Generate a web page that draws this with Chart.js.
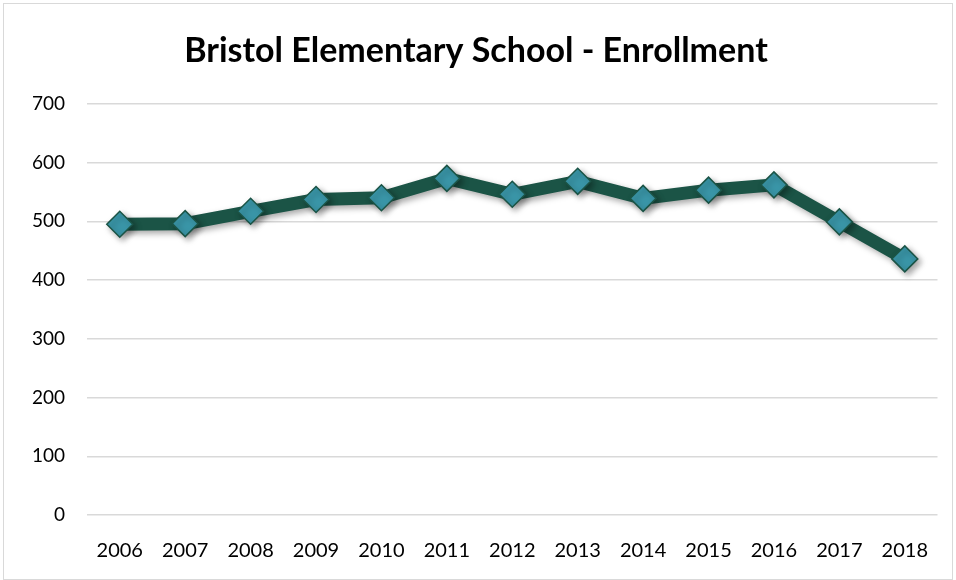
<!DOCTYPE html>
<html>
<head>
<meta charset="utf-8">
<script src="https://cdn.jsdelivr.net/npm/chart.js@4"></script>
<style>
  html, body { margin: 0; padding: 0; background: #fff; overflow: hidden; }
  #wrap { position: absolute; left: 3px; top: 3px; width: 950px; height: 577px; border: 1px solid #d9d9d9; box-sizing: border-box; }
  canvas { display: block; }
</style>
</head>
<body>
<div id="wrap"><canvas id="chart"></canvas></div>
<script>
// Enrollment by year
const years = ['2006', '2007', '2008', '2009', '2010', '2011', '2012', '2013', '2014', '2015', '2016', '2017', '2018'];
const enrollment = [495, 496, 517, 537, 540, 573, 546, 568, 539, 553, 562, 499, 436];
const yTicks = [0, 100, 200, 300, 400, 500, 600, 700];

const fontFamily = "Lato, 'Open Sans', sans-serif";

// soft drop shadow under line and markers
const shadowPlugin = {
    id: 'shadow',
    beforeDatasetsDraw(chart) {
        const ctx = chart.ctx;
        ctx.save();
        ctx.shadowColor = 'rgba(0,0,0,0.35)';
        ctx.shadowBlur = 6;
        ctx.shadowOffsetX = 3;
        ctx.shadowOffsetY = 3;
    },
    afterDatasetsDraw(chart) {
        chart.ctx.restore();
    }
};

new Chart(document.getElementById('chart'), {
    type: 'line',
    data: {
        labels: years,
        datasets: [{
            label: 'Enrollment',
            data: enrollment,
            borderColor: '#1b5446',
            borderWidth: 13,
            pointStyle: 'rectRot',
            pointRadius: 13,
            pointBackgroundColor: '#3a96a8',
            pointBorderColor: '#1b5446',
            pointBorderWidth: 1.5,
            tension: 0
        }]
    },
    options: {
        responsive: true,
        maintainAspectRatio: false,
        animation: false,
        layout: { padding: { left: 6, right: 10, top: 0, bottom: 0 } },
        plugins: {
            legend: { display: false },
            tooltip: { enabled: false },
            title: {
                display: true,
                text: 'Bristol Elementary School - Enrollment',
                color: '#000',
                font: { family: fontFamily, size: 34, weight: 'bold' },
                padding: { top: 27, bottom: 32 }
            }
        },
        scales: {
            x: {
                offset: true,
                grid: { display: false },
                border: { display: false },
                ticks: {
                    color: '#000',
                    font: { family: fontFamily, size: 20 },
                    padding: 16,
                    maxRotation: 0
                }
            },
            y: {
                min: 0,
                max: 700,
                afterBuildTicks(axis) {
                    axis.ticks = yTicks.map(v => ({ value: v }));
                },
                grid: { color: '#d9d9d9', lineWidth: 1.5, drawTicks: false },
                border: { display: false },
                ticks: {
                    color: '#000',
                    font: { family: fontFamily, size: 19 },
                    padding: 22
                }
            }
        }
    },
    plugins: [shadowPlugin]
});
</script>
</body>
</html>
